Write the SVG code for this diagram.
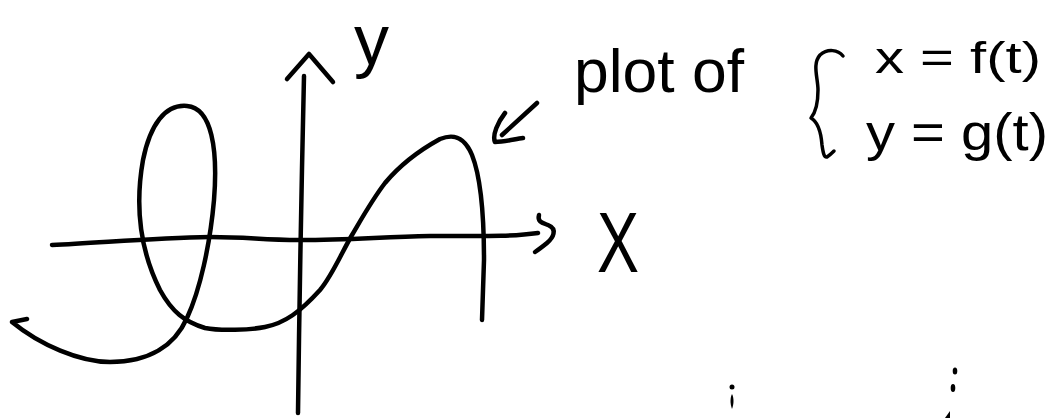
<svg xmlns="http://www.w3.org/2000/svg" width="1056" height="418" viewBox="0 0 1056 418">
<style>
.ink{fill:none;stroke:#000;stroke-width:4.5;stroke-linecap:round;stroke-linejoin:round}
.thin{fill:none;stroke:#000;stroke-width:3.5;stroke-linecap:round;stroke-linejoin:round}
.t{font-family:"Liberation Sans",Arial,sans-serif;fill:#000}
</style>
<rect width="1056" height="418" fill="#fff"/>
<g id="axes">
  <path class="ink" d="M52,245 C100,243 150,238 210,237 C250,237 260,240 300,240 C350,240 380,237 430,236 C480,236 510,237 538,233"/>
  <path class="ink" d="M539,215 C537,222 543,223 548,225 C558,229 553,238 547,243 C542,247 538,250 535,252"/>
  <path class="ink" d="M304,76 Q300,250 298,413"/>
  <path class="ink" d="M287,79 L309,54 L333,82"/>
</g>
<g id="curve">
  <path class="ink" d="M27,319 L12,322 C40,345 80,362 110,362 C150,362 175,345 187,318 C200,290 210,245 214,200 C218,150 212,108 187,106 C165,104 150,125 143,160 C135,205 140,250 160,290 C172,312 185,322 205,328 C220,331 250,330 265,327 C285,323 300,312 320,290 C332,276 342,252 352,235 C362,218 372,200 385,183 C400,165 420,150 440,139 C455,133 465,138 472,155 C482,180 484,230 484,260 L482,320"/>
</g>
<g id="connectors">
  <path class="ink" d="M537,103 L502,135"/>
  <path class="ink" d="M505,113 C498,122 492,135 495,142 C505,142 515,139 523,138"/>
</g>
<g id="label-y">
  <text class="t" x="354" y="64" font-size="70">y</text>
</g>
<g id="label-x">
  <text class="t" x="597" y="272" font-size="86" textLength="42" lengthAdjust="spacingAndGlyphs">X</text>
</g>
<g id="label-plot">
  <text class="t" x="574" y="92" font-size="62" textLength="170" lengthAdjust="spacingAndGlyphs">plot of</text>
</g>
<g id="equations">
  <path class="thin" d="M843,56 C838,50 828,48 820,55 C812,64 818,78 818,90 C818,102 816,112 811,118 C818,122 821,132 822,145 C823,152 824,158 827,157 C830,155 832,153 834,151"/>
  <text class="t" x="875" y="73" font-size="44" textLength="166" lengthAdjust="spacingAndGlyphs">x = f(t)</text>
  <text class="t" x="866" y="150" font-size="52" textLength="182" lengthAdjust="spacingAndGlyphs">y = g(t)</text>
</g>
<g id="marks">
  <circle cx="732" cy="387" r="2.5"/>
  <path d="M732,394 C734,398 734,404 732,409 C730,404 730,398 732,394 Z"/>
  <ellipse cx="955" cy="371" rx="2.3" ry="3.5"/>
  <ellipse cx="953" cy="388" rx="2.3" ry="4"/>
  <path d="M950,411 L945,418 L950,418 Z"/>
</g>
</svg>
